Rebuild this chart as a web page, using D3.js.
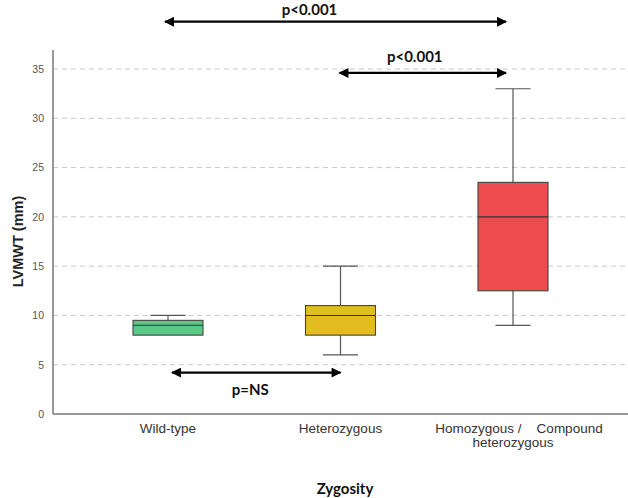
<!DOCTYPE html>
<html><head><meta charset="utf-8">
<script src="https://cdn.jsdelivr.net/npm/d3@7"></script>
<style>
html,body{margin:0;padding:0;background:#fff;}
svg{display:block;}
</style></head>
<body>
<svg id="chart" width="628" height="498"></svg>
<script>
// ---- data ----
const categories = ["Wild-type", "Heterozygous", "Homozygous / Compound heterozygous"];
const categoryLabels = [["Wild-type"], ["Heterozygous"], ["Homozygous /    Compound", "heterozygous"]];
const whiskerLow  = [8, 6, 9];
const q1          = [8, 8, 12.5];
const median      = [9, 10, 20];
const q3          = [9.5, 11, 23.5];
const whiskerHigh = [10, 15, 33];
const boxColors   = ["#5ac987", "#e3bd1f", "#ed4b4d"];
const yTicks      = [0, 5, 10, 15, 20, 25, 30, 35];
const compFrom    = ["Wild-type", "Heterozygous", "Wild-type"];
const compTo      = ["Homozygous / Compound heterozygous", "Homozygous / Compound heterozygous", "Heterozygous"];
const compLevel   = [39.8, 34.6, 4.2];
const compLabel   = ["p<0.001", "p<0.001", "p=NS"];

// ---- layout ----
const svg = d3.select("#chart");
const x = d3.scalePoint().domain(categories).range([168, 513]);
const y = d3.scaleLinear().domain([0, 36.93]).range([414, 50]);
const plotLeft = 53, plotRight = 628;
const boxW = 70, capW = 35;

svg.append("defs").append("marker")
  .attr("id", "ah").attr("viewBox", "0 0 10 10").attr("refX", 9).attr("refY", 5)
  .attr("markerWidth", 5).attr("markerHeight", 4.5).attr("markerUnits", "strokeWidth")
  .attr("orient", "auto-start-reverse")
  .append("path").attr("d", "M0,0 L10,5 L0,10 z").attr("fill", "#000");

// grid
svg.append("g").selectAll("line").data(yTicks.filter(d => d > 0)).join("line")
  .attr("x1", plotLeft).attr("x2", plotRight)
  .attr("y1", d => y(d)).attr("y2", d => y(d))
  .attr("stroke", "#c8c8c8").attr("stroke-width", 1).attr("stroke-dasharray", "5,4");

// y axis
const yAxis = svg.append("g").attr("transform", `translate(${plotLeft},0)`)
  .call(d3.axisLeft(y).tickValues(yTicks).tickSize(0).tickPadding(9));
yAxis.select(".domain").remove();
yAxis.selectAll("text").attr("font-family", "Liberation Sans, Arial, sans-serif")
  .attr("font-size", 10.5).attr("fill", "#555");
svg.append("line").attr("x1", plotLeft).attr("x2", plotLeft).attr("y1", y.range()[1]).attr("y2", y(0))
  .attr("stroke", "#777").attr("stroke-width", 1.5);
svg.append("line").attr("x1", plotLeft).attr("x2", plotRight).attr("y1", y(0)).attr("y2", y(0))
  .attr("stroke", "#777").attr("stroke-width", 1.5);

// boxes
const idx = d3.range(categories.length);
const g = svg.append("g");
idx.forEach(i => {
  const cx = x(categories[i]);
  const gg = g.append("g");
  gg.append("line").attr("x1", cx).attr("x2", cx).attr("y1", y(whiskerHigh[i])).attr("y2", y(q3[i]))
    .attr("stroke", "#555").attr("stroke-width", 1.2);
  gg.append("line").attr("x1", cx).attr("x2", cx).attr("y1", y(q1[i])).attr("y2", y(whiskerLow[i]))
    .attr("stroke", "#555").attr("stroke-width", 1.2);
  [whiskerHigh[i], whiskerLow[i]].forEach(v => {
    if (v === q1[i]) return;
    gg.append("line").attr("x1", cx - capW / 2).attr("x2", cx + capW / 2).attr("y1", y(v)).attr("y2", y(v))
      .attr("stroke", "#555").attr("stroke-width", 1.2);
  });
  gg.append("rect").attr("x", cx - boxW / 2).attr("width", boxW)
    .attr("y", y(q3[i])).attr("height", y(q1[i]) - y(q3[i]))
    .attr("fill", boxColors[i]).attr("stroke", "#444").attr("stroke-width", 1.1);
  gg.append("line").attr("x1", cx - boxW / 2).attr("x2", cx + boxW / 2).attr("y1", y(median[i])).attr("y2", y(median[i]))
    .attr("stroke", "#333").attr("stroke-width", 1.1);
});

// x labels
idx.forEach(i => {
  const t = svg.append("text").attr("font-family", "Liberation Sans, Arial, sans-serif")
    .attr("font-size", 13.5).attr("fill", "#333").attr("text-anchor", "middle")
    .style("white-space", "pre");
  categoryLabels[i].forEach((line, j) => {
    t.append("tspan").attr("x", x(categories[i]) + (categoryLabels[i].length > 1 && j === 0 ? 6 : 0))
      .attr("y", 433 + j * 14).text(line);
  });
});

// axis titles
svg.append("text").attr("transform", `translate(23,${y(17.5)}) rotate(-90)`)
  .attr("text-anchor", "middle").attr("font-family", "Liberation Sans, Arial, sans-serif")
  .attr("font-weight", "bold").attr("font-size", 14.5).attr("fill", "#222").text("LVMWT (mm)");
svg.append("text").attr("x", 345).attr("y", 494).attr("text-anchor", "middle")
  .attr("font-family", "Lato, Open Sans, sans-serif").attr("font-weight", "bold")
  .attr("font-size", 15).attr("fill", "#111").text("Zygosity");

// comparison arrows
const labelShift = [-26, -8, -6];
const arrowShift = [[-5, -5], [-3, -5], [2, 2]];
idx.forEach(i => {
  const x1 = x(compFrom[i]) + arrowShift[i][0], x2 = x(compTo[i]) + arrowShift[i][1];
  const yy = y(compLevel[i]);
  svg.append("line").attr("x1", x1 + 2).attr("x2", x2 - 2).attr("y1", yy).attr("y2", yy)
    .attr("stroke", "#000").attr("stroke-width", 2.2)
    .attr("marker-start", "url(#ah)").attr("marker-end", "url(#ah)");
  const above = compLevel[i] > 20;
  svg.append("text").attr("x", (x1 + x2) / 2 + labelShift[i]).attr("y", above ? Math.max(yy - 11, 15) : yy + 22)
    .attr("text-anchor", "middle").attr("font-family", "Lato, Open Sans, sans-serif")
    .attr("font-weight", "bold").attr("font-size", 15).attr("fill", "#111").text(compLabel[i]);
});
</script>
</body></html>
